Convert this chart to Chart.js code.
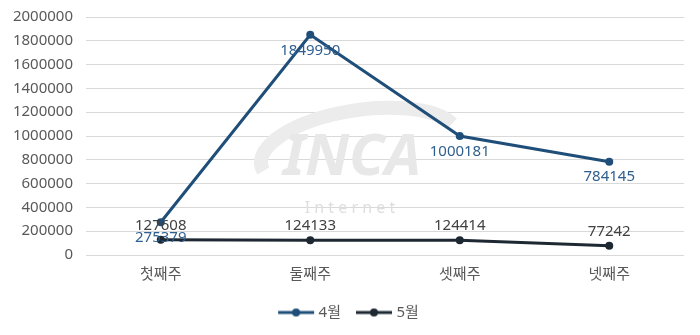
<!DOCTYPE html>
<html>
<head>
<meta charset="utf-8">
<script src="https://cdn.jsdelivr.net/npm/chart.js@4/dist/chart.umd.min.js"></script>
<style>
    html, body { margin: 0; padding: 0; background: #fff; }
    #wrap { width: 700px; height: 335px; position: relative; }
</style>
</head>
<body>
<div id="wrap"><canvas id="weekChart"></canvas></div>
<script>
const weeks = ['첫째주', '둘째주', '셋째주', '넷째주'];
const april = [275379, 1849950, 1000181, 784145];
const may = [127608, 124133, 124414, 77242];
const yTicks = [0, 200000, 400000, 600000, 800000, 1000000, 1200000, 1400000, 1600000, 1800000, 2000000];

const FONT = '"Noto Sans", "Noto Sans CJK KR", sans-serif';
const BLUE = '#1f4e79';
const DARK = '#1e2833';

// legend marker: short line with a dot in the middle
function legendMarker(color) {
    const c = document.createElement('canvas');
    c.width = 40; c.height = 10;
    const g = c.getContext('2d');
    g.strokeStyle = color;
    g.lineWidth = 3;
    g.beginPath(); g.moveTo(2, 5); g.lineTo(38, 5); g.stroke();
    g.fillStyle = color;
    g.beginPath(); g.arc(20, 5, 4, 0, Math.PI * 2); g.fill();
    return c;
}

const watermark = {
    id: 'watermark',
    beforeDatasetsDraw(chart) {
        const ctx = chart.ctx;
        ctx.save();
        ctx.strokeStyle = '#ececec';
        ctx.lineWidth = 14;
        ctx.beginPath();
        ctx.ellipse(360, 150, 100, 40, -0.15, Math.PI * 0.95, Math.PI * 1.9);
        ctx.stroke();
        ctx.fillStyle = '#e8e8e8';
        ctx.font = 'italic bold 58px ' + FONT;
        ctx.textAlign = 'center';
        ctx.textBaseline = 'middle';
        ctx.fillText('INCA', 352, 158);
        ctx.font = '16px ' + FONT;
        ctx.fillStyle = '#dedede';
        ctx.fillText('I n t e r n e t', 350, 208);
        ctx.restore();
    }
};

// value labels: april below the point, may above it
const valueLabels = {
    id: 'valueLabels',
    afterDatasetsDraw(chart) {
        const ctx = chart.ctx;
        ctx.save();
        ctx.font = '15px ' + FONT;
        ctx.textAlign = 'center';
        chart.data.datasets.forEach((ds, i) => {
            const meta = chart.getDatasetMeta(i);
            meta.data.forEach((pt, j) => {
                const v = ds.data[j];
                if (i === 0) {
                    ctx.fillStyle = '#2e5f8f';
                    ctx.textBaseline = 'top';
                    ctx.fillText(String(v), pt.x, pt.y + 8);
                } else {
                    ctx.fillStyle = '#404040';
                    ctx.textBaseline = 'bottom';
                    ctx.fillText(String(v), pt.x, pt.y - 7);
                }
            });
        });
        ctx.restore();
    }
};

new Chart(document.getElementById('weekChart'), {
    type: 'line',
    data: {
        labels: weeks,
        datasets: [{
            label: '4월',
            data: april,
            borderColor: BLUE,
            backgroundColor: BLUE,
            borderWidth: 3,
            pointRadius: 4,
            pointBackgroundColor: BLUE,
            pointBorderWidth: 0,
            tension: 0
        }, {
            label: '5월',
            data: may,
            borderColor: DARK,
            backgroundColor: DARK,
            borderWidth: 3,
            pointRadius: 4,
            pointBackgroundColor: DARK,
            pointBorderWidth: 0,
            tension: 0
        }]
    },
    options: {
        responsive: true,
        maintainAspectRatio: false,
        animation: false,
        layout: { padding: { top: 0, right: 0, left: 0, bottom: 5 } },
        plugins: {
            legend: {
                position: 'bottom',
                labels: {
                    usePointStyle: true,
                    pointStyleWidth: 30,
                    boxHeight: 10,
                    font: { family: FONT, size: 15 },
                    color: '#595959',
                    padding: 18,
                    generateLabels: (chart) => chart.data.datasets.map((ds, i) => ({
                        text: ds.label,
                        pointStyle: legendMarker(ds.borderColor),
                        fillStyle: ds.borderColor,
                        strokeStyle: ds.borderColor,
                        lineWidth: 0,
                        datasetIndex: i,
                        fontColor: '#595959'
                    }))
                }
            },
            tooltip: { enabled: false }
        },
        scales: {
            x: {
                offset: true,
                grid: { display: false },
                border: { display: false },
                ticks: { font: { family: FONT, size: 15 }, color: '#595959', padding: 3 }
            },
            y: {
                min: 0,
                max: 2000000,
                afterBuildTicks: (axis) => { axis.ticks = yTicks.map(v => ({ value: v })); },
                afterFit: (axis) => { axis.width = 86; },
                grid: { color: '#d9d9d9', drawTicks: true, tickLength: 5, tickColor: 'rgba(0,0,0,0)' },
                border: { display: false },
                ticks: {
                    font: { family: FONT, size: 15 },
                    color: '#595959',
                    padding: 8,
                    callback: (v) => String(v)
                }
            },
            // empty right-hand spacer so the legend stays centred on the full width
            spacer: {
                position: 'right',
                min: 0,
                max: 2000000,
                afterFit: (axis) => { axis.width = 16; },
                grid: { display: false },
                border: { display: false },
                ticks: { display: false }
            }
        }
    },
    plugins: [watermark, valueLabels]
});
</script>
</body>
</html>
